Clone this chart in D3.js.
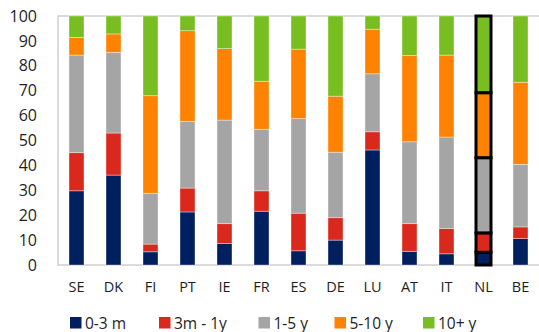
<!DOCTYPE html>
<html>
<head>
<meta charset="utf-8">
<script src="https://cdn.jsdelivr.net/npm/d3@7"></script>
<style>
  html, body { margin: 0; padding: 0; background: #fff; }
  svg { display: block; font-family: "Open Sans", "Noto Sans", sans-serif; }
</style>
</head>
<body>
<svg id="chart" width="539" height="332"></svg>
<script>
// Countries along the x axis
const countries = ["SE", "DK", "FI", "PT", "IE", "FR", "ES", "DE", "LU", "AT", "IT", "NL", "BE"];

// Maturity buckets (stack order, bottom to top)
const buckets = ["0-3 m", "3m - 1y", "1-5 y", "5-10 y", "10+ y"];

// Share of each maturity bucket, % per country
const share0to3m  = [29.8, 36.1,  5.3, 21.3,  8.6, 21.6,  5.7, 10.0, 46.2,  5.5,  4.5,  5.1, 10.6];
const share3mto1y = [15.3, 16.9,  3.1,  9.6,  8.0,  8.2, 15.1,  9.0,  7.3, 11.1, 10.2,  7.8,  4.7];
const share1to5y  = [39.2, 32.4, 20.4, 26.8, 41.6, 24.7, 38.0, 26.3, 23.3, 32.9, 36.7, 30.2, 25.1];
const share5to10y = [ 7.1,  7.4, 39.2, 36.4, 28.7, 19.3, 27.9, 22.5, 17.9, 34.6, 32.9, 26.1, 33.0];
const share10yup  = [ 8.6,  7.2, 32.0,  5.9, 13.1, 26.2, 13.3, 32.2,  5.3, 15.9, 15.7, 30.8, 26.6];

// Y axis ticks
const yTicks = [0, 10, 20, 30, 40, 50, 60, 70, 80, 90, 100];

// Highlighted country
const highlighted = "NL";

const seriesValues = [share0to3m, share3mto1y, share1to5y, share5to10y, share10yup];
const colors = ["#001f5f", "#da291c", "#a5a5a5", "#ff8200", "#78be20"];

const rows = countries.map((c, i) => {
  const r = { country: c };
  buckets.forEach((b, k) => { r[b] = seriesValues[k][i]; });
  return r;
});

const svg = d3.select("#chart");
const plotLeft = 58, plotRight = 539, plotTop = 16, plotBottom = 265;

const x = d3.scaleBand()
  .domain(countries)
  .range([plotLeft, plotRight])
  .paddingInner(0.595)
  .paddingOuter(0.2975);

const y = d3.scaleLinear().domain([0, 100]).range([plotBottom, plotTop]);

const color = d3.scaleOrdinal().domain(buckets).range(colors);

const stacked = d3.stack().keys(buckets)(rows);

// Plot frame (left, top, bottom edges)
svg.append("path")
  .attr("d", `M${plotRight + 2},${plotTop} H${plotLeft} V${plotBottom} H${plotRight + 2}`)
  .attr("fill", "none")
  .attr("stroke", "#cfcfcf")
  .attr("stroke-width", 1.5);

// Stacked bars
const layers = svg.append("g").selectAll("g")
  .data(stacked)
  .join("g")
  .attr("fill", d => color(d.key));

layers.selectAll("rect")
  .data(d => d)
  .join("rect")
  .attr("x", d => x(d.data.country))
  .attr("width", x.bandwidth())
  .attr("y", d => y(d[1]))
  .attr("height", d => y(d[0]) - y(d[1]))
  .attr("stroke", d => d.data.country === highlighted ? "#000" : "rgba(255,255,255,0.45)")
  .attr("stroke-width", d => d.data.country === highlighted ? 3 : 0.8);

// Y axis
const yAxis = svg.append("g")
  .attr("transform", `translate(${plotLeft},0)`)
  .call(d3.axisLeft(y).tickValues(yTicks).tickSize(0).tickPadding(21));
yAxis.select(".domain").remove();
yAxis.selectAll("text")
  .attr("font-family", "'Open Sans', sans-serif")
  .attr("font-size", 16)
  .attr("fill", "#1e1e1e");

// X axis labels
const xAxis = svg.append("g")
  .attr("transform", `translate(0,${plotBottom})`)
  .call(d3.axisBottom(x).tickSize(0).tickPadding(17));
xAxis.select(".domain").remove();
xAxis.selectAll("text")
  .attr("font-family", "'Open Sans', sans-serif")
  .attr("font-size", 14.5)
  .attr("fill", "#1e1e1e");

// Legend
const legendX = [70, 159, 258.5, 334.5, 423];
const legend = svg.append("g").selectAll("g")
  .data(buckets)
  .join("g")
  .attr("transform", (d, i) => `translate(${legendX[i]},317)`);
legend.append("rect")
  .attr("width", 11.5)
  .attr("height", 11.5)
  .attr("fill", d => color(d));
legend.append("text")
  .attr("x", 15)
  .attr("y", 11.5)
  .attr("font-size", 15.5)
  .attr("fill", "#1e1e1e")
  .text(d => d);
</script>
</body>
</html>
